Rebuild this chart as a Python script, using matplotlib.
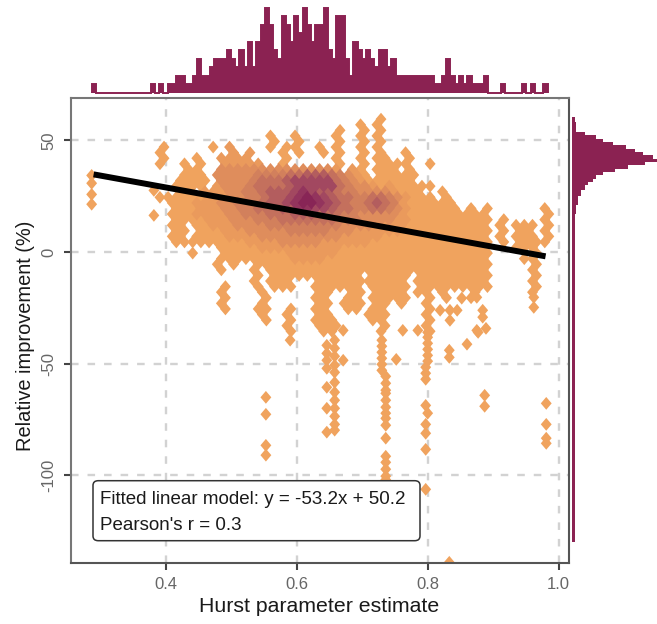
import matplotlib
matplotlib.use("Agg")
import matplotlib.pyplot as plt
import numpy as np
from matplotlib.patches import FancyBboxPatch

plt.rcParams['font.family'] = ['Liberation Sans', 'DejaVu Sans']

W, H = 657, 624
DARK = '#8B2252'
level_colors = ['#F0A35E', '#EA9A5C', '#DF8D5C', '#D2805C', '#C4705D', '#B35D5E', '#A24860', '#93345D', '#882556']

# point cloud: one digit per marker (density level), '.' = no marker
grid_x0, grid_dx = 0.385, 0.0125
grid_y0, grid_dy = 62.0, 2.5
density_rows = [
    ".......... .......... .......... .......... .........",
    ".......... .......... .......1.. .......... .........",
    ".......... .......... .....1.1.. .......... .........",
    ".......... .......... ..1..1.1.. .......... .........",
    ".......... ....1..1.. ..1..1.1.. .......... .........",
    ".......... ....1..1.. ..1..1.1.. .......... .........",
    ".1.....1.2 ....1.11.. 1.1..1.1.. .......... .........",
    "1........2 .2...1.1.. 1.1..1.1.. 1......... .........",
    ".1...1..22 22....1... ..1..1.11. .1........ .........",
    "1..1.1..22 222..1.... ..1..1.111 1..1...... .........",
    "....11..33 3333333333 332.21.111 .1........ .........",
    "...111.333 3344445566 654321.111 11........ .........",
    "...1111.33 3345556777 7754321111 11........ .........",
    "..1111.233 3455556777 7754332121 1111...... .........",
    "...11.2223 3445666787 6654433332 111..1.... .........",
    "1111112223 3445667898 7655445543 2111.1.... .........",
    "..11122233 4445667899 8765445654 2111111... .........",
    "..11122233 4455566887 7655445543 2111111.1. 1......1.",
    "..11122223 3444555666 5554433333 2111111111 1.......1",
    "..11112223 3344455555 5544433332 2111111111 1.1....1.",
    "..11.11222 3333444444 4443333222 2111111111 1.1.111.1",
    "..11.11122 2333334444 4333222222 1111111111 1.1.11.1.",
    "..11.11112 2223333333 3332222211 1111111111 1.1.111.1",
    "..11111111 1222233333 2222221111 1111111111 1.1.1111.",
    "........11 1112222222 2221111111 1111111111 1...111..",
    "....1...11 1111112222 2211111111 1111111111 1.....1..",
    "........11 1111111222 2111111111 1111111111 1....11..",
    ".......1.1 ..11111111 1111111111 1111111111 1.....1..",
    "........1. ..1.111111 1111111111 1111111111 1.....1..",
    ".......... ..1.111111 11111.1111 1.11111111 1.....1..",
    ".......... ..1.111... 1111111111 1.11111111 1.....1..",
    "........1. ..1.111..1 11111.1111 1.11111111 1.....1..",
    "........1. ...1...... 11..11.111 1.11.1...1 ......1..",
    "........1. ...1.....1 1..11.1111 1..1.1..1. .........",
    "........1. ...1...... 11.111.11. 1..1...... .........",
    "........1. ..11..1..1 1..11.11.. ...1...... .........",
    ".......... ...1..1... 11....111. ...1...... .........",
    ".......... ...1..1..1 11....11.. ...1...... .........",
    ".......... ......1... 111.....1. ...1...... .........",
    ".......... ......1... 11.....1.. ...1...... .........",
]

# sparse outliers and long tails
tail_x = [0.287, 0.287, 0.287, 0.287, 0.382, 0.382, 0.59,
          0.646, 0.646, 0.646, 0.646, 0.646, 0.646, 0.646,
          0.658, 0.658, 0.658, 0.658, 0.658, 0.658, 0.658, 0.658, 0.658, 0.658, 0.658, 0.658,
          0.671, 0.671,
          0.553, 0.553, 0.553, 0.553,
          0.73, 0.73, 0.73, 0.73, 0.73, 0.73,
          0.736, 0.736, 0.736, 0.736, 0.736, 0.736, 0.736, 0.736, 0.736, 0.736, 0.736, 0.736, 0.736, 0.736, 0.736,
          0.752, 0.762, 0.785,
          0.80, 0.80, 0.80, 0.80, 0.80, 0.80, 0.797, 0.797, 0.797,
          0.797, 0.80, 0.797, 0.797, 0.797, 0.797, 0.833,
          0.819, 0.834, 0.845, 0.834, 0.833, 0.833, 0.86, 0.877, 0.852, 0.875, 0.884, 0.884, 0.889, 0.875, 0.887, 0.887,
          0.981, 0.981, 0.981, 0.981, 0.962, 0.962]
tail_y = [34.3, 30.8, 25.8, 21.4, 27.6, 16.4, -39.5,
          -41.8, -45.4, -48.5, -52.1, -60.6, -70.0, -80.7,
          -39.5, -43.1, -46.7, -50.7, -53.9, -58.4, -62.8, -66.4, -70.0, -73.6, -77.2, -79.8,
          -35.1, -48.5,
          -65.1, -72.7, -86.6, -91.0,
          -39.5, -42.2, -44.9, -47.6, -50.3, -53.0,
          -55.7, -58.8, -61.9, -63.3, -66.4, -69.5, -72.2, -74.5, -77.6, -83.4, -91.5, -94.2, -97.3, -100.4, -102.0,
          -48.1, -35.1, -35.1,
          -36.0, -38.2, -40.9, -43.6, -46.3, -48.9, -51.6, -54.3, -57.0,
          -68.7, -72.2, -77.2, -81.2, -88.4, -106.3, -139.0,
          -26.1, -26.1, -26.1, -30.6, -44.0, -47.2, -41.3, -36.0, -20.7, -20.3, -26.1, -29.2, -34.2, -35.1, -64.2, -69.1,
          -67.8, -77.2, -83.4, -85.7, -20.3, -24.8]

# marginal histogram over the Hurst estimate (108 bins)
hurst_min, hurst_max = 0.287, 0.983
hurst_counts = [1, 0,0,0,0,0,0,0,0,0,0,0,0,0, 1, 0, 1, 0, 1, 1,
                2, 2, 1, 1, 2, 4, 2, 2, 3, 4, 4, 4, 5, 4, 3, 5, 3, 6, 3, 6,
                8, 10, 8, 5, 4, 9, 8, 6, 9, 7, 10, 8, 6, 8, 8, 10, 5, 4, 9, 9,
                4, 2, 6, 5, 4, 5, 4, 3, 5, 5, 3, 4, 2, 2, 2, 2, 2, 2, 2, 2,
                2, 1, 1, 2, 4, 2, 1, 2, 1, 2, 1, 1, 1, 2, 0, 0, 0, 1, 0, 0,
                0, 0, 1, 0, 1, 0, 0, 1]

# marginal histogram over relative improvement, top to bottom
improvement_edges = [60.3, 58.1, 53.6, 52.3, 50.7, 49.4, 47.8, 46.2, 44.9, 43.3, 41.7, 40.4, 38.8, 37.3,
                     35.9, 34.3, 32.8, 31.4, 29.8, 27.6, 25.0, 20.9, 16.9, 12.0, -0.6, -21.6, -66.4, -129.9]
improvement_counts = [3, 4, 13, 24, 31, 41, 54, 63, 71, 81, 85, 73, 56, 43,
                      31, 24, 21, 16, 13, 9, 6, 4, 3, 3, 3, 2.5, 2.5]

fit_slope, fit_intercept = -53.2, 50.2
fit_x = [0.29, 0.98]
x_ticks = [0.4, 0.6, 0.8, 1.0]
x_ticklabels = ['0.4', '0.6', '0.8', '1.0']
y_ticks = [50, 0, -50, -100]
y_ticklabels = ['50', '0', '-50', '-100']
x_label = 'Hurst parameter estimate'
y_label = 'Relative improvement (%)'
box_line_1 = 'Fitted linear model: y = -53.2x + 50.2'
box_line_2 = "Pearson's r = 0.3"


def axes_px(left, top, right, bottom):
    return fig.add_axes([left / W, 1 - bottom / H, (right - left) / W, (bottom - top) / H])


fig = plt.figure(figsize=(W / 100, H / 100), dpi=100)
ax = axes_px(70.5, 97.5, 568.7, 563)
ax.set_xlim(0.2547, 1.0153)
ax.set_ylim(-139.3, 69.2)

ax.set_axisbelow(True)
ax.grid(True, color='#D2D2D2', lw=1.7, dashes=(3.2, 3.8))
ax.set_xticks(x_ticks, x_ticklabels)
ax.set_yticks(y_ticks, y_ticklabels)
ax.tick_params(axis='both', length=5, width=1.5, color='#444444', labelcolor='#666666', labelsize=12, pad=5)
for t in ax.get_yticklabels():
    t.set_rotation(90)
    t.set_va('center')
ax.set_xlabel(x_label, fontsize=15.3, color='#1a1a1a', labelpad=4)
ax.set_ylabel(y_label, fontsize=14.4, color='#1a1a1a', labelpad=5, y=0.487)
for name, sp in ax.spines.items():
    sp.set_color('#555555' if name in ('bottom', 'right') else '#777777')
    sp.set_linewidth(1.5)

pts_x, pts_y, pts_c = [], [], []
for r, row in enumerate(density_rows):
    for j, ch in enumerate(row.replace(' ', '')):
        if ch != '.':
            pts_x.append(grid_x0 + grid_dx * (j + 0.5 * (r % 2)))
            pts_y.append(grid_y0 - grid_dy * r)
            pts_c.append(int(ch))
pts_x += tail_x
pts_y += tail_y
pts_c += [1] * len(tail_x)
order = np.argsort(pts_c, kind='stable')
diamond = [(0, -1), (0.85, 0), (0, 1), (-0.85, 0), (0, -1)]
ax.scatter(np.array(pts_x)[order], np.array(pts_y)[order], s=85, marker=diamond,
           c=[level_colors[pts_c[i] - 1] for i in order], linewidths=0, zorder=2)

fit_y = [fit_slope * v + fit_intercept for v in fit_x]
ax.plot(fit_x, fit_y, color='black', lw=4.3, solid_capstyle='butt', zorder=3)

box = FancyBboxPatch((93 / W, 1 - 540.7 / H), 327 / W, 60 / H, transform=fig.transFigure,
                     boxstyle='round,pad=0,rounding_size=0.008', fc='white', ec='#333333', lw=1.1, zorder=5,
                     mutation_aspect=H / W)
ax.add_patch(box)
box.set_clip_on(False)
fig.text(100 / W, 1 - 499 / H, box_line_1, fontsize=13.5, va='center', ha='left', color='#1a1a1a', zorder=6)
fig.text(100 / W, 1 - 526 / H, box_line_2, fontsize=13.5, va='center', ha='left', color='#1a1a1a', zorder=6)

top = axes_px(70.5, 5, 568.7, 92.5)
top.set_xlim(ax.get_xlim())
top.set_ylim(0, 87.5 / 8.5)
top.stairs(hurst_counts, np.linspace(hurst_min, hurst_max, len(hurst_counts) + 1), fill=True, color=DARK, lw=0)
top.stairs(hurst_counts, np.linspace(hurst_min, hurst_max, len(hurst_counts) + 1), fill=False, color=DARK, lw=1.4,
           baseline=0, clip_on=False)
top.axis('off')

right = axes_px(572.3, 97.5, 657, 563)
right.set_ylim(ax.get_ylim())
right.set_xlim(0, 84.7)
right.stairs(improvement_counts[::-1], improvement_edges[::-1], orientation='horizontal', fill=True, color=DARK, lw=0)
right.axis('off')

fig.savefig('out.png', dpi=100)
